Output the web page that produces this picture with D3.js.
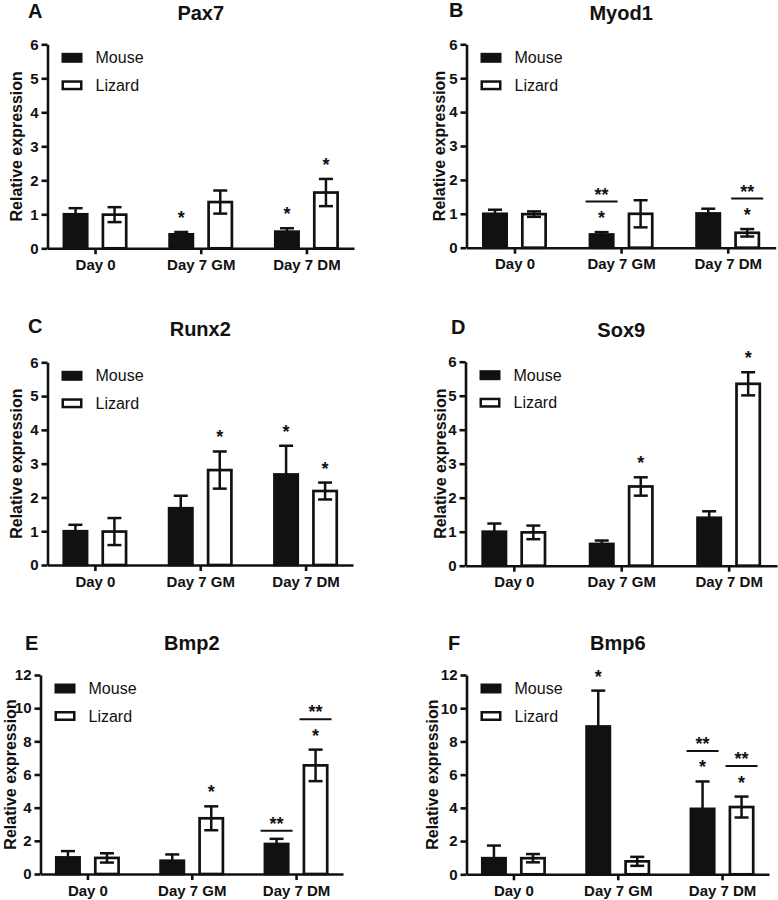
<!DOCTYPE html>
<html>
<head>
<meta charset="utf-8">
<script src="https://cdn.jsdelivr.net/npm/d3@7"></script>
<style>
  html, body { margin: 0; padding: 0; background: #fff; }
  svg { display: block; font-family: "Liberation Sans", Arial, sans-serif; }
</style>
</head>
<body>
<svg id="chart" width="778" height="900"></svg>
<script>
// ---------- data ----------
const groups = ["Day 0", "Day 7 GM", "Day 7 DM"];
const series = ["Mouse", "Lizard"];
const genes = ["Pax7", "Myod1", "Runx2", "Sox9", "Bmp2", "Bmp6"];
const letters = ["A", "B", "C", "D", "E", "F"];
const yMax = [6, 6, 6, 6, 12, 12];
const yTickStep = [1, 1, 1, 1, 2, 2];

const mouseMean = [
  [1.0, 0.41, 0.49],
  [1.0, 0.39, 1.01],
  [1.0, 1.68, 2.68],
  [1.0, 0.64, 1.41],
  [1.0, 0.80, 1.81],
  [0.97, 8.90, 3.94]
];
const mouseSem = [
  [0.18, 0.07, 0.10],
  [0.12, 0.07, 0.14],
  [0.19, 0.37, 0.85],
  [0.24, 0.10, 0.19],
  [0.38, 0.38, 0.31],
  [0.76, 2.16, 1.65]
];
const lizardMean = [
  [0.99, 1.36, 1.64],
  [0.99, 1.00, 0.44],
  [0.99, 2.81, 2.19],
  [0.98, 2.33, 5.35],
  [0.97, 3.36, 6.55],
  [0.97, 0.78, 4.05]
];
const lizardSem = [
  [0.22, 0.34, 0.40],
  [0.08, 0.40, 0.11],
  [0.40, 0.55, 0.25],
  [0.20, 0.27, 0.34],
  [0.28, 0.72, 0.95],
  [0.25, 0.27, 0.63]
];

// significance marks: [panel, group, series]
const singleStars = [
  [0, 1, 0], [0, 2, 0], [0, 2, 1],
  [1, 1, 0], [1, 2, 1],
  [2, 1, 1], [2, 2, 0], [2, 2, 1],
  [3, 1, 1], [3, 2, 1],
  [4, 1, 1], [4, 2, 1],
  [5, 1, 0], [5, 2, 0], [5, 2, 1]
];
const doubleStars = [
  [1, 1, 0], [1, 2, 1],
  [4, 2, 0], [4, 2, 1],
  [5, 2, 0], [5, 2, 1]
];

// ---------- layout (positions only) ----------
const layout = [
  { x0: 47.5,  x1: 354,   y0: 248.3, yT: 44.3,  ylab: 16,  titleY: 20,  letterX: 28,  letterY: 18 },
  { x0: 466.5, x1: 775.7, y0: 247.7, yT: 44.3,  ylab: 439, titleY: 20,  letterX: 449, letterY: 17 },
  { x0: 47.5,  x1: 353,   y0: 565,   yT: 362.3, ylab: 16,  titleY: 336, letterX: 28,  letterY: 333 },
  { x0: 465.5, x1: 777,   y0: 565.7, yT: 361.7, ylab: 440, titleY: 337, letterX: 451, letterY: 334 },
  { x0: 40.5,  x1: 343,   y0: 874,   yT: 675,   ylab: 10,  titleY: 650, letterX: 25,  letterY: 650 },
  { x0: 466.5, x1: 769,   y0: 874.3, yT: 675,   ylab: 432, titleY: 650, letterX: 448, letterY: 650 }
];

const INK = "#111";
const svg = d3.select("#chart");

const BAR_W = 26, BAR_SW = 2.7, ERR_SW = 2.5, CAP_W = 14, AXIS_SW = 2.6;

genes.forEach((gene, p) => {
  const L = layout[p];
  const g = svg.append("g");
  const means = [mouseMean[p], lizardMean[p]];
  const sems = [mouseSem[p], lizardSem[p]];

  const x = d3.scalePoint().domain(groups).range([L.x0, L.x1]).padding(0.45);
  const xs = d3.scaleBand().domain(series).range([-39, 39]).paddingInner(0.36).paddingOuter(0.18);
  const y = d3.scaleLinear().domain([0, yMax[p]]).range([L.y0, L.yT]);
  const ticks = d3.range(0, yMax[p] + 0.001, yTickStep[p]);

  const cx = (gi, si) => x(groups[gi]) + xs(series[si]) + xs.bandwidth() / 2;

  // bars
  series.forEach((s, si) => {
    groups.forEach((grp, gi) => {
      const v = means[si][gi];
      const c = cx(gi, si);
      g.append("rect")
        .attr("x", c - BAR_W / 2 + BAR_SW / 2)
        .attr("width", BAR_W - BAR_SW)
        .attr("y", y(v))
        .attr("height", y(0) - y(v))
        .attr("fill", si === 0 ? INK : "#fff")
        .attr("stroke", INK)
        .attr("stroke-width", BAR_SW);
    });
  });

  // error bars
  series.forEach((s, si) => {
    groups.forEach((grp, gi) => {
      const m = means[si][gi], e = sems[si][gi];
      const c = cx(gi, si);
      const top = y(m + e), bot = si === 0 ? y(m) : y(m - e);
      const eg = g.append("g").attr("stroke", INK).attr("stroke-width", ERR_SW);
      eg.append("line").attr("x1", c).attr("x2", c).attr("y1", top).attr("y2", bot);
      eg.append("line").attr("x1", c - CAP_W / 2).attr("x2", c + CAP_W / 2).attr("y1", top).attr("y2", top);
      if (si === 1) {
        eg.append("line").attr("x1", c - CAP_W / 2).attr("x2", c + CAP_W / 2).attr("y1", bot).attr("y2", bot);
      }
    });
  });

  // axes
  const yAxis = g.append("g").attr("transform", `translate(${L.x0},0)`)
    .call(d3.axisLeft(y).tickValues(ticks).tickFormat(d3.format("d")).tickSize(6).tickSizeOuter(0).tickPadding(3));
  const xAxis = g.append("g").attr("transform", `translate(0,${L.y0})`)
    .call(d3.axisBottom(x).tickSize(6).tickSizeOuter(0).tickPadding(5));
  [yAxis, xAxis].forEach(a => {
    a.select(".domain").attr("stroke", INK).attr("stroke-width", AXIS_SW);
    a.selectAll(".tick line").attr("stroke", INK).attr("stroke-width", AXIS_SW);
    a.selectAll("text").attr("fill", INK).attr("font-size", 15).attr("font-weight", "bold")
      .attr("font-family", "'Liberation Sans', Arial, sans-serif");
  });

  // y-axis title
  g.append("text")
    .attr("transform", `translate(${L.ylab},${(L.y0 + L.yT) / 2}) rotate(-90)`)
    .attr("text-anchor", "middle").attr("dominant-baseline", "central")
    .attr("font-size", 16).attr("font-weight", "bold").attr("fill", INK)
    .text("Relative expression");

  // title and panel letter
  g.append("text")
    .attr("x", (L.x0 + L.x1) / 2).attr("y", L.titleY)
    .attr("text-anchor", "middle").attr("font-size", 20).attr("font-weight", "bold").attr("fill", INK)
    .text(gene);
  g.append("text")
    .attr("x", L.letterX).attr("y", L.letterY)
    .attr("font-size", 20).attr("font-weight", "bold").attr("fill", INK)
    .text(letters[p]);

  // legend
  series.forEach((s, si) => {
    const ly = L.yT + 8.5 + si * 27.5;
    const lx = L.x0 + 14;
    if (si === 0) {
      g.append("rect").attr("x", lx).attr("y", ly).attr("width", 21).attr("height", 10).attr("fill", INK);
    } else {
      g.append("rect").attr("x", lx + 1.25).attr("y", ly + 1.25).attr("width", 18.5).attr("height", 7.5)
        .attr("fill", "#fff").attr("stroke", INK).attr("stroke-width", 2.5);
    }
    g.append("text").attr("x", lx + 34).attr("y", ly + 5)
      .attr("dominant-baseline", "central").attr("font-size", 16).attr("fill", INK)
      .text(s);
  });

  // significance marks
  const errTop = (gi, si) => y(means[si][gi] + sems[si][gi]);
  const starText = (xc, yc, t) => g.append("text")
    .attr("x", xc).attr("y", yc + 10).attr("text-anchor", "middle")
    .attr("font-size", 18).attr("font-weight", "bold").attr("fill", INK).text(t);

  singleStars.filter(d => d[0] === p).forEach(([, gi, si]) => {
    starText(cx(gi, si), errTop(gi, si) - 18, "*");
  });
  doubleStars.filter(d => d[0] === p).forEach(([, gi, si]) => {
    const hasStar = singleStars.some(d => d[0] === p && d[1] === gi && d[2] === si);
    const lineY = hasStar ? errTop(gi, si) - 18 - 12.5 : errTop(gi, si) - 8;
    const c = cx(gi, si);
    g.append("line").attr("x1", c - 16).attr("x2", c + 16).attr("y1", lineY).attr("y2", lineY)
      .attr("stroke", INK).attr("stroke-width", 2);
    starText(c, lineY - 11, "**");
  });
});
</script>
</body>
</html>
